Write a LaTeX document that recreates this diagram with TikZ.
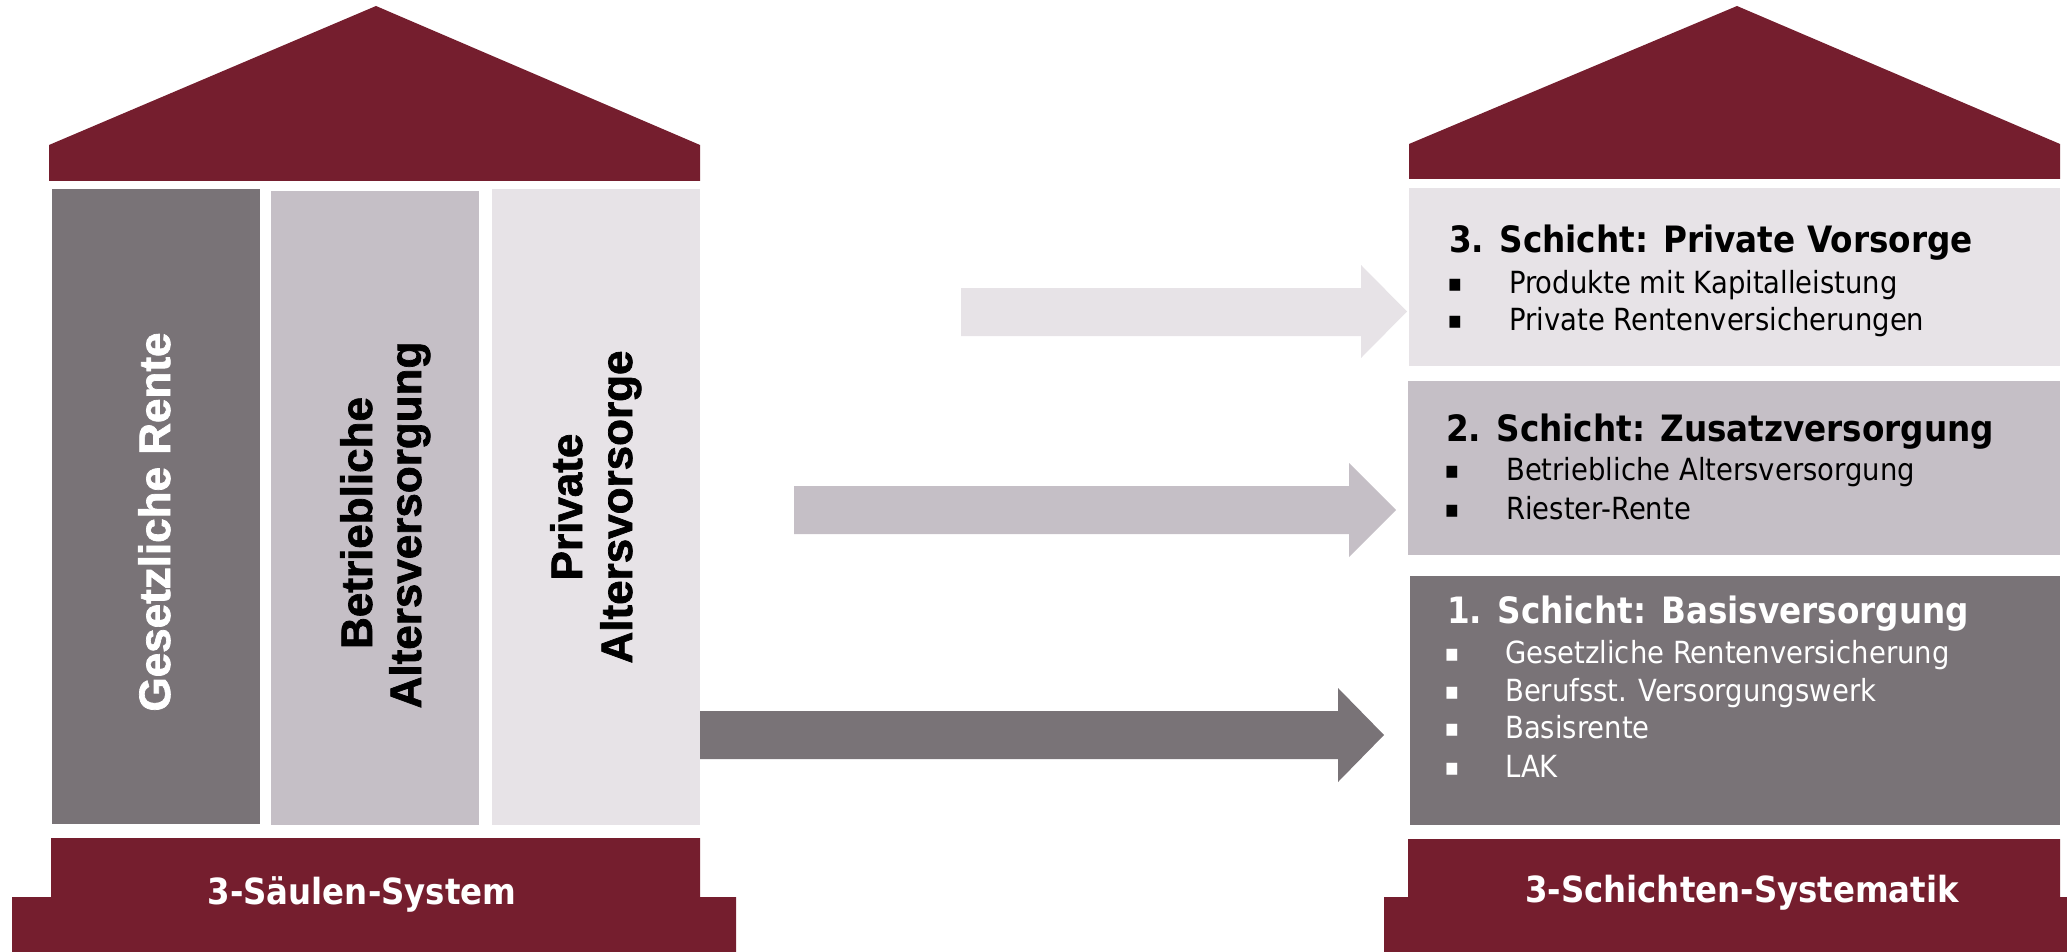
\documentclass[tikz,border=0pt]{standalone}
\usepackage{fontspec}
\setmainfont{DejaVu Sans}
\newfontfamily\tah{DejaVu Sans}[FakeStretch=0.9]
\newfontfamily\arib{Liberation Sans}[UprightFont={* Bold}, UprightFeatures={FakeBold=1.6}]
\definecolor{maroon}{HTML}{751E2E}
\definecolor{gdark}{HTML}{797377}
\definecolor{gmid}{HTML}{C5BFC6}
\definecolor{glight}{HTML}{E7E3E7}
\tikzset{
  coltxt/.style={inner sep=0pt, rotate=90, anchor=base, font=\arib\fontsize{44}{48}\selectfont},
  ttl/.style={inner sep=0pt, anchor=base west, font=\tah\bfseries\fontsize{36.3}{40}\selectfont},
  itm/.style={inner sep=0pt, anchor=base west, font=\tah\fontsize{30.5}{34}\selectfont},
  bul/.style={inner sep=0pt, anchor=base, yshift=2pt, font=\tah\fontsize{24}{28}\selectfont},
  baselbl/.style={inner sep=0pt, anchor=base, text=white, font=\tah\bfseries\fontsize{36}{40}\selectfont}
}
\begin{document}
\begin{tikzpicture}[x=1pt,y=-1pt]
\useasboundingbox (0,0) rectangle (2067,952);
% ---------- left building ----------
\fill[maroon] (49,145) -- (376,6) -- (700,145) -- (700,181) -- (49,181) -- cycle;
\fill[gdark]  (52,189) rectangle (260,824);
\fill[gmid]   (271,191) rectangle (479,825);
\fill[glight] (492,189) rectangle (700,825);
\fill[maroon] (51,838) -- (700,838) -- (700,897) -- (736,897) -- (736,952) -- (12,952) -- (12,897) -- (51,897) -- cycle;
\node[coltxt, text=white] (c1) at (170,522) {Gesetzliche Rente};
\node[coltxt] (c2a) at (372,523) {Betriebliche};
\node[coltxt] (c2b) at (421,525) {Altersversorgung};
\node[coltxt] (c3a) at (582,507) {Private};
\node[coltxt] (c3b) at (632,507) {Altersvorsorge};
\node[baselbl] (lb) at (362,904) {3-Säulen-System};
% ---------- right building ----------
\fill[maroon] (1409,144) -- (1737,6) -- (2060,144) -- (2060,179) -- (1409,179) -- cycle;
\fill[glight] (1409,188) rectangle (2060,366);
\fill[gmid]   (1408,381) rectangle (2060,555);
\fill[gdark]  (1410,576) rectangle (2060,825);
\fill[maroon] (1408,839) -- (2060,839) -- (2060,897) -- (2067,897) -- (2067,952) -- (1384,952) -- (1384,897) -- (1408,897) -- cycle;
\node[baselbl] (rb) at (1742,902) {3-Schichten-Systematik};
% box 3
\node[ttl] (t3) at (1449,253) {3. Schicht: Private Vorsorge};
\node[bul] (b3a) at (1455,293) {▪};
\node[itm] (i3a) at (1509,293) {Produkte mit Kapitalleistung};
\node[bul] (b3b) at (1455,330) {▪};
\node[itm] (i3b) at (1509,330) {Private Rentenversicherungen};
% box 2
\node[ttl] (t2) at (1446,441) {2. Schicht: Zusatzversorgung};
\node[bul] (b2a) at (1452,480) {▪};
\node[itm] (i2a) at (1506,480) {Betriebliche Altersversorgung};
\node[bul] (b2b) at (1452,519) {▪};
\node[itm] (i2b) at (1506,519) {Riester-Rente};
% box 1
\node[ttl, text=white] (t1) at (1447,623) {1. Schicht: Basisversorgung};
\node[bul, text=white] (b1a) at (1452,663) {▪};
\node[itm, text=white] (i1a) at (1505,663) {Gesetzliche Rentenversicherung};
\node[bul, text=white] (b1b) at (1452,701) {▪};
\node[itm, text=white] (i1b) at (1505,701) {Berufsst. Versorgungswerk};
\node[bul, text=white] (b1c) at (1452,738) {▪};
\node[itm, text=white] (i1c) at (1505,738) {Basisrente};
\node[bul, text=white] (b1d) at (1452,777) {▪};
\node[itm, text=white] (i1d) at (1505,777) {LAK};
% ---------- arrows ----------
\fill[glight] (961,288) -- (1361,288) -- (1361,265) -- (1407,311.5) -- (1361,358) -- (1361,336) -- (961,336) -- cycle;
\fill[gmid]   (794,486) -- (1349,486) -- (1349,463) -- (1396,510) -- (1349,557) -- (1349,534) -- (794,534) -- cycle;
\fill[gdark]  (700,711) -- (1338,711) -- (1338,688) -- (1384,735) -- (1338,782) -- (1338,759) -- (700,759) -- cycle;
\end{tikzpicture}
\end{document}
